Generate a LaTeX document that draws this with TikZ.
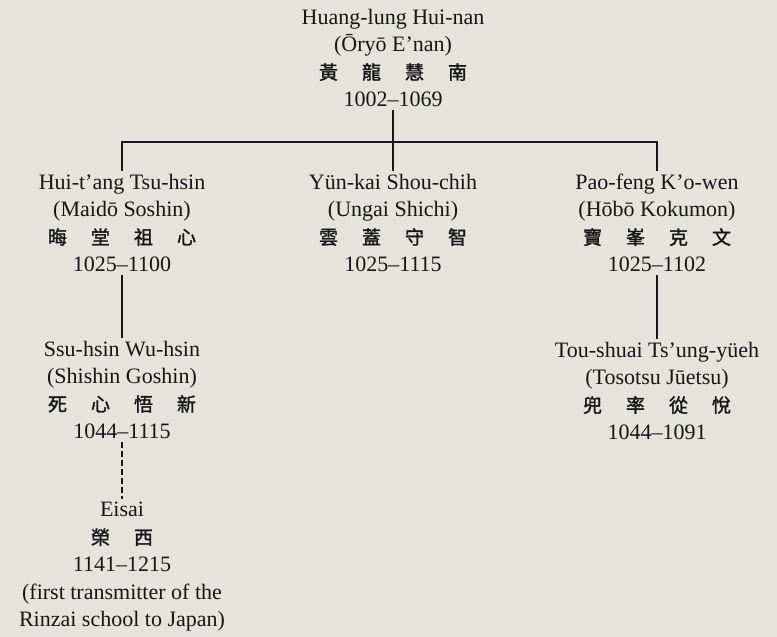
\documentclass[tikz,border=0pt]{standalone}
\usepackage{fontspec}
\setmainfont{Liberation Serif}
\newfontfamily\cjk[FakeBold=1.5]{Noto Sans CJK TC}
\definecolor{paper}{HTML}{E4E4DC}
\definecolor{ink}{HTML}{161616}
\newcommand{\han}[1]{{\cjk\fontsize{19}{27.5}\selectfont #1}}
\newcommand{\hgap}{\hspace{24pt}}
\tikzset{
  monk/.style={align=center, inner sep=0pt, outer sep=3pt, text=ink,
    font=\fontsize{22}{27.5}\selectfont},
  lineage/.style={draw=ink, line width=1.9pt},
}
\begin{document}
\begin{tikzpicture}[x=1pt,y=-1pt]
\fill[paper] (0,0) rectangle (777,637);
\useasboundingbox (0,0) rectangle (777,637);

\node[monk] (huanglung) at (393,58) {Huang-lung Hui-nan\\(Ōryō E’nan)\\\han{黃\hgap 龍\hgap 慧\hgap 南}\\1002--1069};

\node[monk] (huitang) at (122,223) {Hui-t’ang Tsu-hsin\\(Maidō Soshin)\\\han{晦\hgap 堂\hgap 祖\hgap 心}\\1025--1100};
\node[monk] (yunkai) at (393,223) {Yün-kai Shou-chih\\(Ungai Shichi)\\\han{雲\hgap 蓋\hgap 守\hgap 智}\\1025--1115};
\node[monk] (paofeng) at (657,223) {Pao-feng K’o-wen\\(Hōbō Kokumon)\\\han{寶\hgap 峯\hgap 克\hgap 文}\\1025--1102};

\node[monk] (ssuhsin) at (122,390) {Ssu-hsin Wu-hsin\\(Shishin Goshin)\\\han{死\hgap 心\hgap 悟\hgap 新}\\1044--1115};
\node[monk] (toushuai) at (657,391) {Tou-shuai Ts’ung-yüeh\\(Tosotsu Jūetsu)\\\han{兜\hgap 率\hgap 從\hgap 悅}\\1044--1091};

\node[monk] (eisai) at (122,567) {Eisai\\\han{榮\hgap 西}\\1141--1215\\(first transmitter of the\\Rinzai school to Japan)};

\coordinate (bar) at (393,142);
\draw[lineage] (huanglung.south) -- (yunkai.north);
\draw[lineage] (huitang.north) |- (bar) -| (paofeng.north);
\draw[lineage] (huitang.south) -- (ssuhsin.north);
\draw[lineage] (paofeng.south) -- (toushuai.north);
\draw[lineage, dash pattern=on 6pt off 3pt] (ssuhsin.south) -- (eisai.north);
\end{tikzpicture}
\end{document}
